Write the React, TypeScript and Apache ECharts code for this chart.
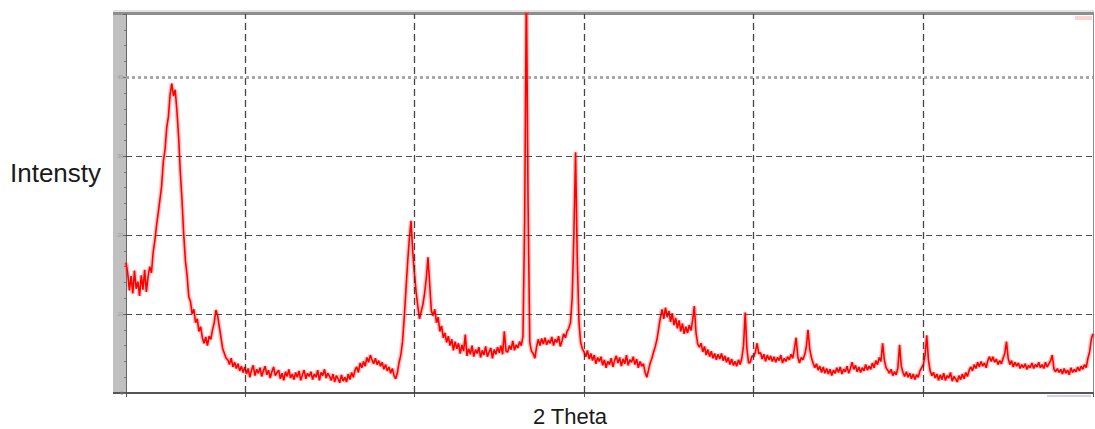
import React, { useEffect, useRef } from "react";
import * as echarts from "echarts";

// XRD scan: start angle and step (degrees 2θ); counts typed per degree below
const START_2THETA = 3.0;
const STEP_2THETA = 0.1;
const X_MIN = 3;
const X_MAX = 60;
const Y_MIN = 0;
const Y_MAX = 48;
const Y_INTERVAL = 10;

const X_GRID = [10, 20, 30, 40, 50];
const Y_GRID_DASHED = [10, 20, 30];
const Y_GRID_DOTTED = [40];

const X_TITLE = "2 Theta";
const Y_TITLE = "Intensty";

const intensity03to09 = [
  16.5, 15.2, 13.0, 14.8, 12.6, 15.5, 13.2, 14.1, 12.3, 14.9,
  13.1, 15.6, 12.8, 14.7, 16.0, 15.2, 17.8, 19.3, 21.2, 22.8,
  24.5, 26.2, 29.3, 30.8, 33.6, 35.0, 37.8, 39.2, 37.6, 38.4,
  35.8, 32.5, 28.0, 24.5, 20.2, 16.8, 14.9, 12.2, 11.6, 10.0,
  10.6, 8.9, 9.4, 7.8, 8.4, 7.0, 6.3, 7.1, 6.0, 7.2,
  6.8, 8.0, 8.9, 10.5, 9.8, 8.4, 7.0, 5.6, 5.0, 4.4,
  4.2, 3.6, 4.4, 3.3, 3.9, 3.1, 3.7, 2.8, 3.4, 2.6,
];
const intensity10to19 = [
  3.3, 2.4, 3.1, 2.0, 2.9, 3.5, 2.2, 3.0, 2.5, 3.2,
  2.1, 2.8, 3.4, 2.3, 2.9, 1.9, 2.7, 3.3, 2.2, 2.6,
  2.9, 1.8, 2.5, 1.6, 2.7, 2.1, 3.0, 1.9, 2.4, 1.7,
  2.6, 2.0, 2.8, 1.6, 2.3, 2.9, 1.8, 2.5, 2.1, 2.7,
  1.7, 2.4, 2.0, 2.9, 1.6, 2.6, 2.2, 3.0, 1.9, 2.5,
  2.1, 1.6, 2.4, 1.4, 2.2, 1.8, 1.3, 2.3, 1.5, 2.0,
  1.4, 2.4, 1.7, 2.6, 2.0, 2.9, 3.3, 2.6, 3.8, 3.2,
  4.0, 3.4, 4.5, 3.9, 4.8, 4.2, 3.7, 4.4, 3.6, 4.1,
  3.4, 3.9, 3.0, 3.6, 2.8, 3.3, 2.5, 3.1, 2.2, 1.8,
  2.6, 3.9, 4.8, 6.5, 9.5, 13.0, 16.5, 19.5, 21.8, 18.0,
];
const intensity20to29 = [
  15.2, 12.8, 11.0, 9.4, 10.3, 11.2, 12.6, 14.5, 17.2, 13.8,
  10.4, 9.8, 10.6, 8.9, 9.6, 7.8, 8.5, 7.0, 7.6, 6.4,
  7.2, 6.0, 6.8, 5.4, 6.5, 5.6, 6.3, 5.0, 6.1, 5.3,
  7.4, 4.7, 5.6, 4.9, 6.0, 4.6, 5.5, 5.0, 5.8, 4.5,
  5.4, 4.8, 5.9, 4.6, 5.2, 5.7, 4.4, 5.5, 4.9, 5.8,
  5.1, 6.0, 4.9, 7.8, 5.3, 5.2, 6.0, 5.5, 6.6, 5.4,
  6.1, 5.7, 6.5, 6.0, 7.2, 22.0, 52.0, 24.0, 6.4, 5.3,
  5.0, 4.4, 5.8, 6.8, 6.0, 6.9, 6.2, 7.0, 6.1, 6.7,
  6.3, 7.1, 6.0, 6.8, 6.4, 7.2, 5.9, 6.6, 7.5, 7.0,
  7.8, 8.2, 8.9, 12.0, 20.0, 30.5, 17.0, 9.0, 6.4, 5.6,
];
const intensity30to39 = [
  5.2, 4.6, 5.4, 4.3, 5.0, 4.1, 4.8, 3.7, 4.5, 4.0,
  4.6, 3.5, 4.2, 3.2, 4.0, 3.6, 4.4, 3.3, 4.1, 4.7,
  3.8, 4.5, 3.4, 4.3, 3.7, 4.8, 3.5, 4.2, 3.9, 4.6,
  3.6, 4.3, 3.2, 4.0, 3.4, 3.7, 2.6, 2.0, 2.9, 3.8,
  4.4, 5.2, 5.9, 6.8, 8.2, 9.5, 10.6, 9.4, 10.8, 9.6,
  10.4, 9.0, 10.1, 8.6, 9.5, 8.2, 9.2, 7.8, 8.8, 7.5,
  8.4, 7.6, 8.6, 7.9, 9.2, 11.0, 7.6, 6.2, 5.8, 6.3,
  5.2, 5.9, 4.8, 5.5, 4.6, 5.3, 4.4, 5.0, 4.2, 4.9,
  4.3, 5.0, 4.1, 4.7, 3.9, 4.5, 3.6, 4.3, 3.5, 4.0,
  3.4, 4.2, 3.6, 4.4, 6.0, 10.2, 5.6, 3.8, 3.9, 4.7,
];
const intensity40to49 = [
  4.6, 5.2, 6.3, 5.0, 5.1, 4.3, 4.9, 4.0, 4.8, 4.2,
  4.7, 4.0, 4.6, 3.9, 4.5, 4.1, 4.8, 3.8, 4.4, 4.0,
  4.6, 4.2, 4.9, 4.4, 5.6, 7.0, 4.6, 3.8, 4.5, 4.2,
  4.8, 5.8, 8.0, 5.6, 4.5, 3.8, 3.2, 3.7, 2.9, 3.4,
  2.6, 3.3, 2.5, 3.1, 2.4, 3.0, 2.2, 2.9, 2.5, 3.2,
  2.6, 3.3, 2.4, 3.0, 2.7, 3.4, 2.5, 3.1, 3.9, 3.0,
  3.5, 2.7, 3.3, 2.6, 3.2, 2.8, 3.6, 2.9, 3.4, 3.0,
  3.8, 3.2, 4.1, 3.6, 4.5, 4.0, 6.3, 4.2, 3.2, 2.9,
  2.5, 3.0, 2.2, 2.7, 2.3, 3.2, 6.1, 3.4, 2.6, 2.1,
  2.7, 2.0, 2.5, 1.8, 2.4, 1.7, 2.3, 2.0, 2.8, 3.2,
];
const intensity50to60 = [
  3.6, 4.8, 7.3, 4.2, 2.8, 2.2, 2.6, 1.9, 2.4, 1.6,
  2.3, 1.7, 2.5, 1.6, 2.2, 1.9, 2.6, 1.5, 2.1, 1.8,
  1.4, 2.2, 1.7, 2.4, 1.8, 2.6, 2.1, 2.9, 3.3, 2.8,
  3.6, 3.1, 3.9, 3.3, 4.0, 3.4, 3.8, 3.2, 4.1, 4.6,
  4.0, 4.6, 3.9, 4.3, 3.6, 4.1, 3.7, 4.4, 5.0, 6.5,
  4.4, 3.6, 4.1, 3.3, 3.9, 3.4, 3.8, 3.1, 3.6, 3.2,
  3.7, 3.0, 3.5, 3.2, 3.8, 3.1, 3.6, 3.3, 3.9, 3.2,
  3.6, 3.1, 3.9, 3.3, 3.7, 4.1, 4.8, 3.0, 2.7, 3.1,
  2.6, 3.0, 2.4, 3.1, 2.5, 2.9, 2.3, 3.2, 2.6, 3.0,
  2.7, 3.3, 2.8, 3.4, 3.0, 3.6, 3.2, 4.4, 5.2, 6.8,
  7.5,
];

const FONT = "'Liberation Sans', Arial, Helvetica, sans-serif";

export default function App() {
  const ref = useRef<HTMLDivElement>(null);

  useEffect(() => {
    document.body.style.margin = "0";
    const chart = echarts.init(ref.current!, null, { renderer: "svg" });

    const counts = [
      ...intensity03to09,
      ...intensity10to19,
      ...intensity20to29,
      ...intensity30to39,
      ...intensity40to49,
      ...intensity50to60,
    ];
    const data = counts.map((v, i) => [
      Number((START_2THETA + i * STEP_2THETA).toFixed(1)),
      v,
    ]);

    const dashed = { color: "#3a3a3a", width: 1, type: [6, 4] as number[], opacity: 0.9 };
    const dashedV = { color: "#333", width: 1.3, type: [7, 4] as number[], opacity: 0.9 };
    const dotted = { color: "#a8a8a8", width: 3, type: [3, 3] as number[] };

    chart.setOption({
      animation: false,
      backgroundColor: "#ffffff",
      grid: { left: 126, right: 2, top: 14, bottom: 36, show: false },
      xAxis: {
        type: "value",
        min: X_MIN,
        max: X_MAX,
        axisLine: { show: true, lineStyle: { color: "#555", width: 2 } },
        axisTick: { show: true, length: 4, lineStyle: { color: "#555" } },
        axisLabel: { show: false },
        splitLine: { show: false },
      },
      yAxis: {
        type: "value",
        min: Y_MIN,
        max: Y_MAX,
        interval: Y_INTERVAL,
        axisLine: { show: true, lineStyle: { color: "#666", width: 1 } },
        axisTick: { show: true, length: 3, lineStyle: { color: "#666" } },
        minorTick: { show: true, splitNumber: 5, length: 2, lineStyle: { color: "#777" } },
        axisLabel: { show: true, fontSize: 5, color: "#999", margin: 3, showMaxLabel: false },
        splitLine: { show: false },
      },
      graphic: [
        { type: "rect", shape: { x: 113, y: 10, width: 981, height: 3 }, style: { fill: "#e2e2e2" } },
        { type: "rect", shape: { x: 113, y: 12, width: 13, height: 382 }, style: { fill: "#c0c0c0" } },
        { type: "rect", shape: { x: 113, y: 12, width: 981, height: 3 }, style: { fill: "#8e8e8e" } },
        { type: "line", shape: { x1: 1093.5, y1: 14, x2: 1093.5, y2: 393 }, style: { stroke: "#8a8a8a", lineWidth: 1 } },
        { type: "rect", shape: { x: 113, y: 392, width: 13, height: 2 }, style: { fill: "#555" } },
        { type: "rect", shape: { x: 1075, y: 16, width: 17, height: 4 }, style: { fill: "#ffd2d2" } },
        { type: "rect", shape: { x: 1047, y: 395, width: 44, height: 2 }, style: { fill: "#cdd3f2" } },
        {
          type: "text",
          x: 10,
          y: 173,
          style: { text: Y_TITLE, fontSize: 26, fontFamily: FONT, fill: "#1a1a1a", verticalAlign: "middle" },
        },
        {
          type: "text",
          x: 570,
          y: 416,
          style: { text: X_TITLE, fontSize: 22, fontFamily: FONT, fill: "#1a1a1a", align: "center", verticalAlign: "middle" },
        },
      ],
      series: [
        {
          type: "line",
          data,
          symbol: "none",
          showSymbol: false,
          clip: true,
          silent: true,
          lineStyle: { color: "rgba(255,40,40,0.28)", width: 4.5 },
          z: 2,
        },
        {
          type: "line",
          data,
          symbol: "none",
          showSymbol: false,
          clip: true,
          lineStyle: { color: "#ff0000", width: 1.6 },
          z: 3,
          markLine: {
            silent: true,
            symbol: ["none", "none"],
            label: { show: false },
            animation: false,
            data: [
              ...X_GRID.map((x) => ({ xAxis: x, lineStyle: dashedV })),
              ...Y_GRID_DASHED.map((y) => ({ yAxis: y, lineStyle: dashed })),
              ...Y_GRID_DOTTED.map((y) => ({ yAxis: y, lineStyle: dotted })),
            ],
          },
        },
      ],
    });

    return () => chart.dispose();
  }, []);

  return <div ref={ref} style={{ width: 1095, height: 429 }} />;
}
